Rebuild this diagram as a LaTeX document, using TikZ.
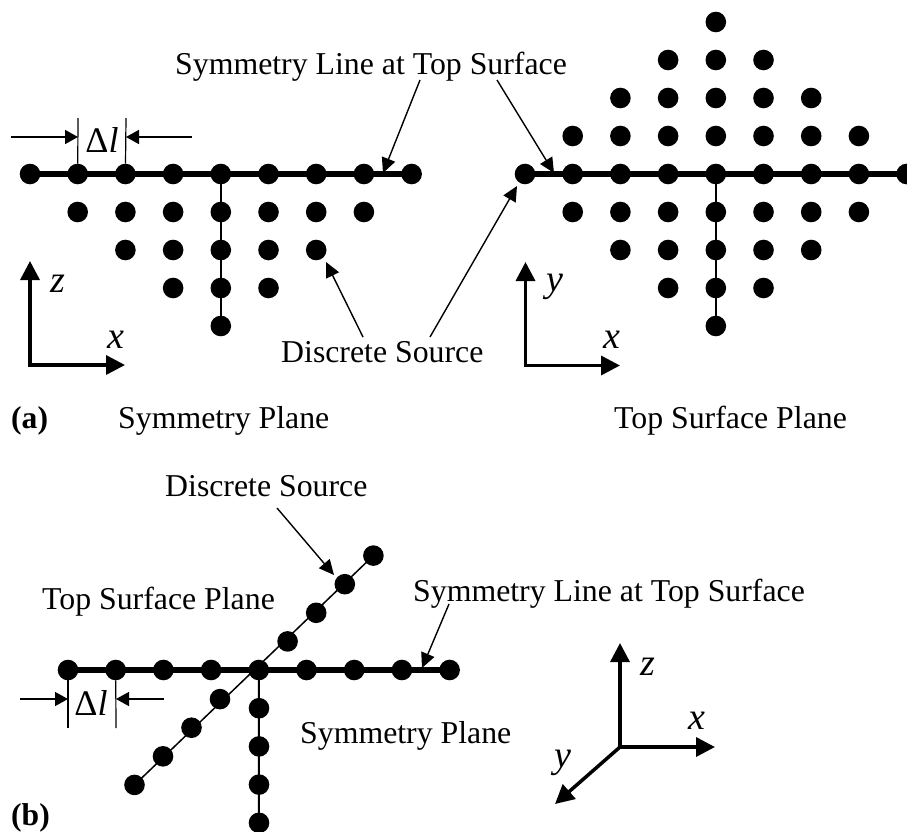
\documentclass[tikz,border=0pt]{standalone}
\usepackage{fontspec}
\setmainfont{Liberation Serif}
\usetikzlibrary{arrows.meta}
\tikzset{
	source/.style={circle, fill=black, inner sep=0pt, outer sep=0pt, minimum size=20.6pt},
	label/.style={inner sep=0pt, anchor=base west, font=\fontsize{31.8}{36}\selectfont},
	tag/.style={inner sep=0pt, anchor=base west, font=\fontsize{31.6}{36}\selectfont\bfseries},
	axislabel/.style={inner sep=0pt, anchor=base, font=\fontsize{38}{40}\selectfont\itshape},
	deltalabel/.style={inner sep=0pt, anchor=base, font=\fontsize{36}{38}\selectfont},
	symline/.style={line width=6.5pt, shorten >=-2pt, shorten <=-2pt},
	stem/.style={line width=2pt, shorten >=-2pt, shorten <=-2pt},
	pointer/.style={line width=1.4pt, -{Triangle[length=15pt, width=14pt]}},
	gauge/.style={line width=1.5pt, -{Triangle[length=13pt, width=14pt]}},
	tick/.style={line width=1.2pt},
	axis/.style={line width=3.5pt, line cap=rect, -{Triangle[length=19pt, width=19pt]}}
}
\begin{document}
\begin{tikzpicture}[x=1pt, y=-1pt]
		\useasboundingbox (0,0) rectangle (907,832);
		\foreach \i in {0,...,8} {
			\node[source] (sym0-\i) at ({30+47.7*\i},174) {};
			\node[source] (top0-\i) at ({525+47.7*\i},174) {};
			\node[source] (line-\i) at ({68+47.7*\i},670) {};
		}
		\foreach \r/\a/\b in {1/1/7,2/2/6,3/3/5,4/4/4} {
			\foreach \i in {\a,...,\b} {
				\node[source] (sym\r-\i) at ({30+47.7*\i},{174+38*\r}) {};
				\node[source] (topd\r-\i) at ({525+47.7*\i},{174+38*\r}) {};
				\node[source] (topu\r-\i) at ({525+47.7*\i},{174-38*\r}) {};
			}
			\node[source] (depth\r) at (259,{670+38.2*\r}) {};
			\node[source] (diagu\r) at ({259+28.6*\r},{670-28.6*\r}) {};
			\node[source] (diagd\r) at ({248.5-28.5*\r},{670.5+28.6*\r}) {};
		}

		\draw[symline] (sym0-0) -- (sym0-8);
		\draw[symline] (top0-0) -- (top0-8);
		\draw[symline] (line-0) -- (line-8);
		\draw[stem] (sym0-4) -- (sym4-4);
		\draw[stem] (top0-4) -- (topd4-4);
		\draw[stem] (line-4) -- (depth4);
		\draw[line width=1.5pt, shorten >=-2pt, shorten <=-2pt] (diagd4) -- (diagu4);

		\node[label] (symtitle) at (175,75) {Symmetry Line at Top Surface};
		\node[label] (srctitle) at (281,362) {Discrete Source};
		\node[label] (plane-a) at (118,428) {Symmetry Plane};
		\node[label] (surf-a) at (614,428) {Top Surface Plane};
		\node[tag] (tag-a) at (11,428) {(a)};
		\node[label] (srctitle-b) at (165,496) {Discrete Source};
		\node[label] (surf-b) at (42,609) {Top Surface Plane};
		\node[label] (symtitle-b) at (413,601) {Symmetry Line at Top Surface};
		\node[label] (plane-b) at (300,743) {Symmetry Plane};
		\node[tag] (tag-b) at (11,825) {(b)};

		\coordinate (p1s) at (420,80);
		\coordinate (p1e) at (383,173);
		\coordinate (p2s) at (497,80);
		\coordinate (p2e) at (554,173);
		\coordinate (p3s) at (363,337);
		\coordinate (p3e) at (326,262);
		\coordinate (p4s) at (430,337);
		\coordinate (p4e) at (517,186);
		\coordinate (p5s) at (277,508);
		\coordinate (p5e) at (334,575);
		\coordinate (p6s) at (449,604);
		\coordinate (p6e) at (422,668);
		\draw[pointer] (p1s) -- (p1e);
		\draw[pointer] (p2s) -- (p2e);
		\draw[pointer] (p3s) -- (p3e);
		\draw[pointer] (p4s) -- (p4e);
		\draw[pointer] (p5s) -- (p5e);
		\draw[pointer] (p6s) -- (p6e);

		\coordinate (ga1) at (78,118);
		\coordinate (ga2) at (126,118);
		\draw[tick] (sym0-1) -- (ga1);
		\draw[tick] (sym0-2) -- (ga2);
		\coordinate (gl1) at (11,137);
		\coordinate (gl2) at (78,137);
		\coordinate (gr1) at (192,137);
		\coordinate (gr2) at (126,137);
		\draw[gauge] (gl1) -- (gl2);
		\draw[gauge] (gr1) -- (gr2);
		\node[deltalabel] (delta-a) at (102,152) {Δ\textit{l}};
		\coordinate (gb1) at (68,728);
		\coordinate (gb2) at (116,728);
		\draw[tick] (line-0) -- (gb1);
		\draw[tick] (line-1) -- (gb2);
		\coordinate (hl1) at (20,699);
		\coordinate (hl2) at (68,699);
		\coordinate (hr1) at (164,699);
		\coordinate (hr2) at (116,699);
		\draw[gauge] (hl1) -- (hl2);
		\draw[gauge] (hr1) -- (hr2);
		\node[deltalabel] (delta-b) at (91,715) {Δ\textit{l}};

		\coordinate (oa) at (30,365);
		\coordinate (oaz) at (30,261);
		\coordinate (oax) at (125,365);
		\draw[axis] (oa) -- (oaz);
		\draw[axis] (oa) -- (oax);
		\node[axislabel] (za) at (58,292) {z};
		\node[axislabel] (xa) at (116,348) {x};
		\coordinate (ob) at (525.5,365.5);
		\coordinate (oby) at (525.5,262);
		\coordinate (obx) at (620,365.5);
		\draw[axis] (ob) -- (oby);
		\draw[axis] (ob) -- (obx);
		\node[axislabel] (yb) at (555,291) {y};
		\node[axislabel] (xb) at (612,348) {x};
		\coordinate (oc) at (620,747);
		\coordinate (ocz) at (620,643);
		\coordinate (ocx) at (715,747);
		\coordinate (ocy) at (555,804);
		\draw[axis] (oc) -- (ocz);
		\draw[axis] (oc) -- (ocx);
		\draw[axis] (oc) -- (ocy);
		\node[axislabel] (zc) at (648,675) {z};
		\node[axislabel] (xc) at (697,729) {x};
		\node[axislabel] (yc) at (563,767) {y};
	\end{tikzpicture}
\end{document}
